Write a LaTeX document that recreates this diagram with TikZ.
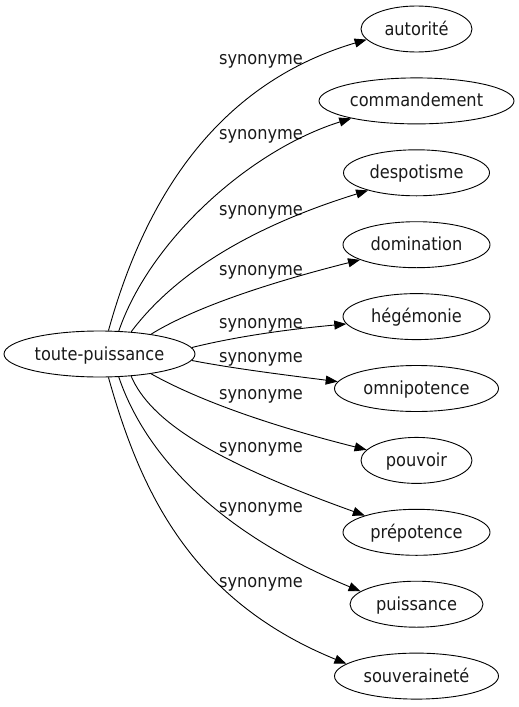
\documentclass[tikz,border=0pt]{standalone}
\usepackage{fontspec}
\setmainfont{DejaVu Sans}[FakeStretch=0.9]
\usetikzlibrary{shapes.geometric,arrows.meta}
\newcommand\nodetext[1]{\raisebox{-6pt}[0pt][0pt]{\makebox[0pt]{#1}}}
\begin{document}
\begin{tikzpicture}[x=1pt,y=-1pt,
  word/.style={ellipse,draw,line width=0.9pt,inner sep=0pt,minimum height=46pt,text=black!90,font=\fontsize{18}{20}\selectfont},
  rel/.style={anchor=base,inner sep=0pt,font=\fontsize{18}{20}\selectfont,text=black!90},
  link/.style={line width=0.9pt,-{Triangle[length=12pt,width=9pt]}}]
\useasboundingbox (0,0) rectangle (519,707);

\node[word,minimum width=191pt] (src) at (99.5,354) {\nodetext{toute-puissance}};

\node[word,minimum width=111pt] (t1) at (416.5,29) {\nodetext{autorité}};
\node[word,minimum width=195pt] (t2) at (416.5,100.9) {\nodetext{commandement}};
\node[word,minimum width=146pt] (t3) at (416.5,172.8) {\nodetext{despotisme}};
\node[word,minimum width=147pt] (t4) at (416.5,244.7) {\nodetext{domination}};
\node[word,minimum width=147pt] (t5) at (416.5,316.6) {\nodetext{hégémonie}};
\node[word,minimum width=164pt] (t6) at (416.5,388.5) {\nodetext{omnipotence}};
\node[word,minimum width=111pt] (t7) at (416.5,460.4) {\nodetext{pouvoir}};
\node[word,minimum width=147pt] (t8) at (416.5,532.3) {\nodetext{prépotence}};
\node[word,minimum width=133pt] (t9) at (416.5,604.2) {\nodetext{puissance}};
\node[word,minimum width=164pt] (t10) at (416.5,676.1) {\nodetext{souveraineté}};

\node[rel] (l1) at (261,64) {synonyme};
\node[rel] (l2) at (261,139) {synonyme};
\node[rel] (l3) at (261,215) {synonyme};
\node[rel] (l4) at (261,275) {synonyme};
\node[rel] (l5) at (261,328) {synonyme};
\node[rel] (l6) at (261,362.5) {synonyme};
\node[rel] (l7) at (261,399) {synonyme};
\node[rel] (l8) at (261,452) {synonyme};
\node[rel] (l9) at (261,512) {synonyme};
\node[rel] (l10) at (261,587) {synonyme};

\draw[link] (src.69) .. controls (150,180) and (230,80) .. (t1.192);
\draw[link] (src.50) .. controls (150,240) and (250,150) .. (t2.195);
\draw[link] (src.35) .. controls (170,280) and (240,230) .. (t3.200);
\draw[link] (src.21) .. controls (190,310) and (260,285) .. (t4.195);
\draw[link] (src.4) .. controls (230,338) and (280,330) .. (t5.186);
\draw[link] (src.-4) .. controls (230,368) and (285,375) .. (t6.175);
\draw[link] (src.-21) .. controls (180,390) and (240,418) .. (t7.168);
\draw[link] (src.-35) .. controls (150,420) and (210,460) .. (t8.162);
\draw[link] (src.-50) .. controls (140,440) and (200,525) .. (t9.167);
\draw[link] (src.-69) .. controls (140,490) and (190,600) .. (t10.170);
\end{tikzpicture}
\end{document}
